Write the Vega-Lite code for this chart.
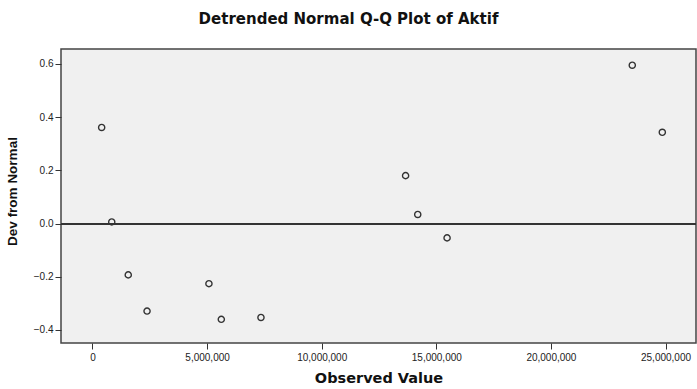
{
  "$schema": "https://vega.github.io/schema/vega-lite/v6.json",
  "autosize": {"type": "none"},
  "padding": {"left": 61, "top": 49, "right": 1, "bottom": 46},
  "width": 635,
  "height": 294,
  "background": "white",
  "config": {
    "view": {"fill": "#f0f0f0", "stroke": "#444444", "strokeWidth": 1.5},
    "font": "Liberation Sans"
  },
  "title": {
    "text": "Detrended Normal Q-Q Plot of Aktif",
    "fontSize": 15,
    "fontWeight": "bold",
    "font": "DejaVu Sans",
    "color": "#111111",
    "anchor": "middle",
    "dx": -30,
    "offset": 22
  },
  "data": {
    "values": [
      {"observed": 400000, "dev": 0.361},
      {"observed": 840000, "dev": 0.006},
      {"observed": 1560000, "dev": -0.193},
      {"observed": 2380000, "dev": -0.329},
      {"observed": 5080000, "dev": -0.226},
      {"observed": 5620000, "dev": -0.360},
      {"observed": 7350000, "dev": -0.353},
      {"observed": 13660000, "dev": 0.180},
      {"observed": 14190000, "dev": 0.034},
      {"observed": 15470000, "dev": -0.054},
      {"observed": 23550000, "dev": 0.595},
      {"observed": 24860000, "dev": 0.343}
    ]
  },
  "layer": [
    {
      "mark": {"type": "rule", "color": "#333333", "strokeWidth": 1.2},
      "encoding": {"y": {"datum": 0, "type": "quantitative"}}
    },
    {
      "mark": {"type": "point", "shape": "circle", "filled": false, "stroke": "#333333", "strokeWidth": 1.4, "size": 38, "opacity": 1},
      "encoding": {
        "x": {
          "field": "observed",
          "type": "quantitative",
          "scale": {"domain": [-1374000, 26330000], "nice": false, "zero": false},
          "axis": {
            "title": "Observed Value",
            "titleFont": "DejaVu Sans",
            "titleFontSize": 14.5,
            "titleFontWeight": "bold",
            "titleColor": "#111111",
            "titlePadding": 9,
            "values": [0, 5000000, 10000000, 15000000, 20000000, 25000000],
            "format": ",d",
            "labelFontSize": 10,
            "labelColor": "#222222",
            "labelPadding": 3,
            "tickSize": 6,
            "tickColor": "#333333",
            "domain": false,
            "grid": false
          }
        },
        "y": {
          "field": "dev",
          "type": "quantitative",
          "scale": {"domain": [-0.449, 0.656], "nice": false, "zero": false},
          "axis": {
            "title": "Dev from Normal",
            "titleFont": "Liberation Sans",
            "titleFontSize": 13.5,
            "titleFontWeight": "bold",
            "titleColor": "#111111",
            "titleX": -42,
            "titleY": 142,
            "values": [-0.4, -0.2, 0, 0.2, 0.4, 0.6],
            "format": ".1f",
            "labelFontSize": 10,
            "labelColor": "#222222",
            "labelPadding": 2,
            "tickSize": 6,
            "tickColor": "#333333",
            "domain": false,
            "grid": false
          }
        }
      }
    }
  ]
}
